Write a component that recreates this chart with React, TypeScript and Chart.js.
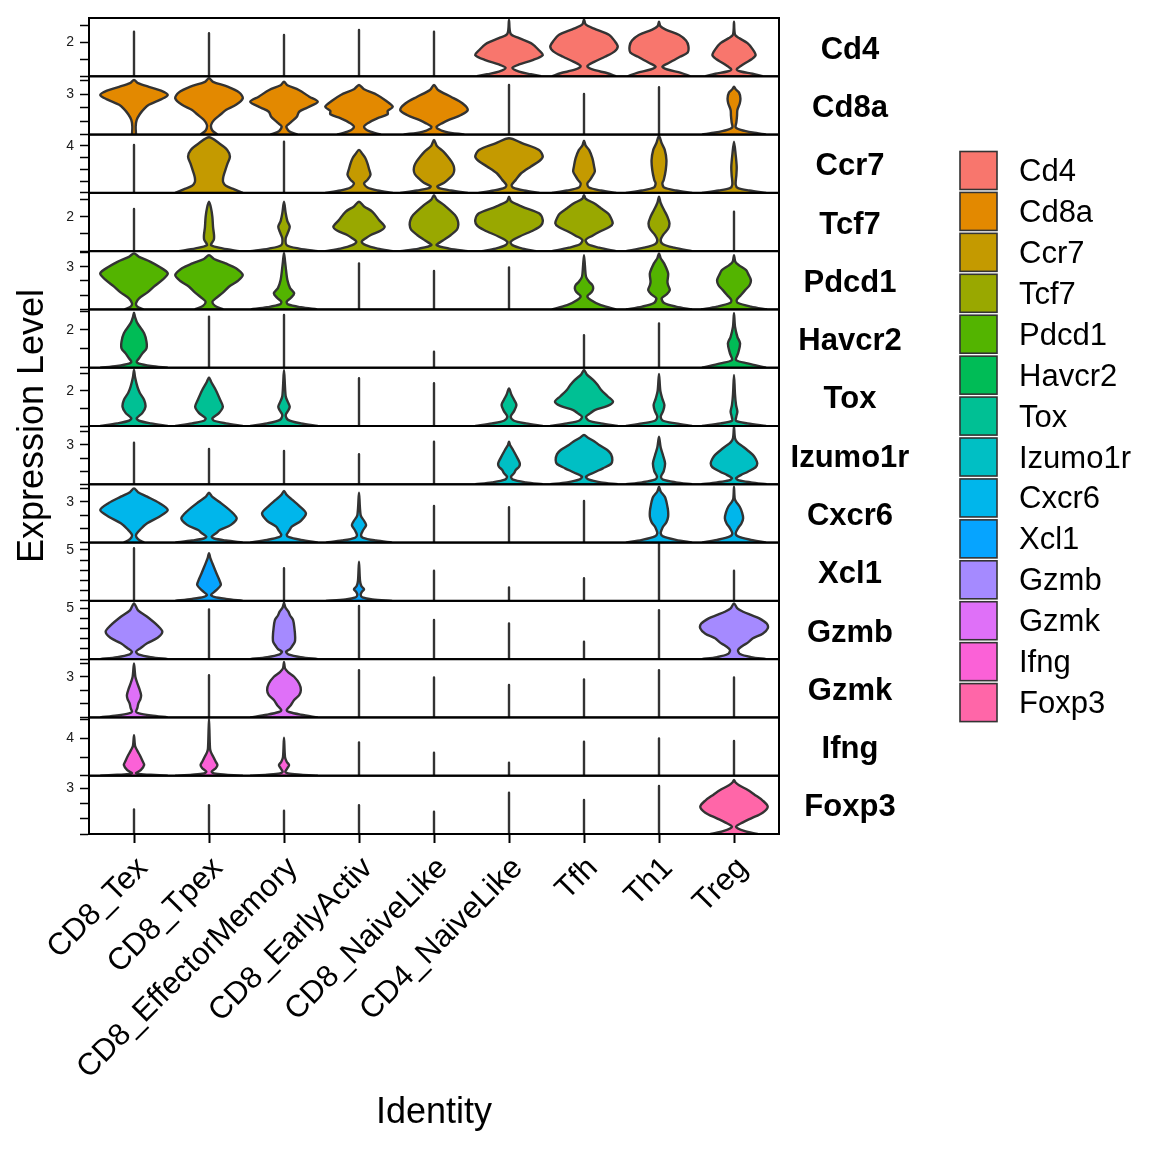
import React, { useEffect, useRef } from "react";
import { Chart, registerables } from "chart.js";

Chart.register(...registerables);

const FONT = '"Liberation Sans", Arial, Helvetica, sans-serif';

const categories = [
  "CD8_Tex", "CD8_Tpex", "CD8_EffectorMemory", "CD8_EarlyActiv", "CD8_NaiveLike",
  "CD4_NaiveLike", "Tfh", "Th1", "Treg",
];

const genes = [
  "Cd4", "Cd8a", "Ccr7", "Tcf7", "Pdcd1", "Havcr2", "Tox",
  "Izumo1r", "Cxcr6", "Xcl1", "Gzmb", "Gzmk", "Ifng", "Foxp3",
];

const geneColors = [
  "#F8766D", "#E38900", "#C49A00", "#99A800", "#53B400", "#00BC56", "#00C094",
  "#00BFC4", "#00B6EB", "#06A4FF", "#A58AFF", "#DF70F8", "#FB61D7", "#FF66A8",
];

// upper limit of each panel's expression axis
const panelMax = [3.43, 4.31, 4.94, 3.39, 4.1, 3.09, 3.33, 4.45, 4.28, 5.73, 5.74, 4.3, 6.24, 3.83];
// spacing of the y ticks in each panel
const tickStep = [1, 1, 1, 1, 1, 1, 1, 1, 1, 1, 1, 1, 2, 1];
// the single labelled tick of each panel
const labelledTick = [2, 3, 4, 2, 3, 2, 2, 3, 3, 5, 5, 3, 4, 3];

// Violin outlines: per category a list of [expression value, relative half-width]
const cd4Violins = [
  [[0, 0], [2.62, 0]],
  [[0, 0], [2.53, 0]],
  [[0, 0], [2.43, 0]],
  [[0, 0], [2.72, 0]],
  [[0, 0], [2.62, 0]],
  [[0, 0.95], [0.12, 0.65], [0.27, 0.3], [0.5, 0.1], [0.7, 0.3], [0.95, 0.7], [1.25, 1.0], [1.55, 0.88], [1.75, 0.78], [1.95, 0.65], [2.25, 0.3], [2.5, 0.05], [3.31, 0]],
  [[0, 0.95], [0.18, 0.7], [0.4, 0.25], [0.6, 0.1], [0.85, 0.3], [1.15, 0.62], [1.45, 0.9], [1.75, 1.0], [2.1, 0.9], [2.43, 0.75], [2.8, 0.3], [3.05, 0.05], [3.35, 0]],
  [[0, 0.93], [0.2, 0.65], [0.4, 0.25], [0.56, 0.1], [0.8, 0.3], [1.15, 0.62], [1.4, 0.85], [1.78, 0.87], [2.1, 0.8], [2.43, 0.6], [2.75, 0.2], [2.95, 0.04], [3.21, 0]],
  [[0, 0.85], [0.15, 0.55], [0.28, 0.2], [0.42, 0.08], [0.6, 0.2], [0.8, 0.35], [1.0, 0.52], [1.25, 0.64], [1.6, 0.55], [1.95, 0.4], [2.25, 0.15], [2.45, 0.03], [3.21, 0]],
];

const cd8aViolins = [
  [[0, 0.06], [0.6, 0.05], [1.08, 0.08], [1.5, 0.17], [1.9, 0.3], [2.2, 0.44], [2.6, 0.8], [2.93, 1.0], [3.25, 0.8], [3.53, 0.44], [3.8, 0.12], [4.03, 0]],
  [[0, 0.25], [0.3, 0.1], [0.7, 0.06], [1.08, 0.15], [1.5, 0.35], [1.82, 0.5], [2.2, 0.8], [2.68, 1.0], [3.1, 0.9], [3.54, 0.55], [3.9, 0.12], [4.16, 0]],
  [[0, 0.4], [0.25, 0.15], [0.6, 0.07], [0.9, 0.2], [1.32, 0.38], [1.69, 0.45], [2.0, 0.7], [2.43, 1.0], [2.8, 0.75], [3.3, 0.44], [3.65, 0.1], [3.91, 0]],
  [[0, 0.65], [0.25, 0.3], [0.58, 0.15], [0.9, 0.3], [1.2, 0.54], [1.5, 0.85], [1.75, 0.85], [2.06, 1.0], [2.5, 0.8], [2.93, 0.54], [3.35, 0.15], [3.67, 0]],
  [[0, 0.9], [0.2, 0.35], [0.45, 0.1], [0.6, 0.08], [0.85, 0.25], [1.08, 0.44], [1.45, 0.8], [1.82, 1.0], [2.3, 0.85], [2.8, 0.5], [3.3, 0.12], [3.67, 0]],
  [[0, 0], [3.67, 0]],
  [[0, 0], [3.0, 0]],
  [[0, 0], [3.5, 0]],
  [[0, 0.95], [0.15, 0.55], [0.35, 0.2], [0.54, 0.05], [0.9, 0.07], [1.4, 0.09], [1.82, 0.1], [2.3, 0.17], [2.68, 0.19], [3.1, 0.15], [3.35, 0.05], [3.54, 0]],
];

const ccr7Violins = [
  [[0, 0], [4.06, 0]],
  [[0, 1.0], [0.3, 0.75], [0.6, 0.5], [0.9, 0.42], [1.3, 0.42], [1.8, 0.47], [2.5, 0.55], [3.07, 0.62], [3.64, 0.54], [4.2, 0.3], [4.71, 0]],
  [[0, 0], [4.34, 0]],
  [[0, 1.0], [0.2, 0.55], [0.45, 0.25], [0.81, 0.15], [1.1, 0.25], [1.52, 0.34], [2.0, 0.3], [2.5, 0.25], [2.93, 0.19], [3.3, 0.1], [3.64, 0]],
  [[0, 1.0], [0.2, 0.5], [0.4, 0.15], [0.55, 0.1], [0.85, 0.3], [1.24, 0.46], [1.6, 0.57], [1.94, 0.6], [2.3, 0.58], [2.64, 0.52], [3.1, 0.4], [3.49, 0.28], [4.0, 0.08], [4.48, 0]],
  [[0, 0.9], [0.2, 0.45], [0.45, 0.12], [0.67, 0.08], [1.1, 0.2], [1.66, 0.36], [2.22, 0.64], [2.7, 0.9], [3.07, 1.0], [3.64, 0.89], [4.2, 0.4], [4.63, 0]],
  [[0, 0.95], [0.2, 0.5], [0.45, 0.15], [0.8, 0.1], [1.1, 0.18], [1.37, 0.24], [1.8, 0.32], [2.22, 0.3], [2.93, 0.25], [3.64, 0.15], [4.0, 0.05], [4.42, 0]],
  [[0, 0.98], [0.2, 0.5], [0.45, 0.15], [0.81, 0.1], [1.09, 0.14], [1.94, 0.2], [2.79, 0.22], [3.64, 0.17], [4.2, 0.08], [4.82, 0]],
  [[0, 0.95], [0.2, 0.45], [0.4, 0.12], [0.7, 0.05], [1.5, 0.07], [2.2, 0.08], [3.2, 0.05], [4.34, 0]],
];

const tcf7Violins = [
  [[0, 0], [2.45, 0]],
  [[0, 0.9], [0.16, 0.4], [0.35, 0.06], [0.65, 0.14], [0.9, 0.15], [1.4, 0.12], [2.0, 0.1], [2.5, 0.06], [2.87, 0]],
  [[0, 1.0], [0.15, 0.45], [0.35, 0.08], [0.74, 0.05], [1.1, 0.12], [1.42, 0.17], [1.75, 0.1], [2.2, 0.05], [2.87, 0]],
  [[0, 1.0], [0.15, 0.55], [0.35, 0.2], [0.55, 0.08], [0.75, 0.2], [0.94, 0.35], [1.2, 0.65], [1.42, 0.76], [1.8, 0.6], [2.29, 0.4], [2.6, 0.15], [2.87, 0]],
  [[0, 1.0], [0.15, 0.45], [0.35, 0.08], [0.6, 0.25], [0.94, 0.5], [1.25, 0.68], [1.52, 0.72], [1.8, 0.7], [2.1, 0.62], [2.68, 0.3], [3.0, 0.08], [3.26, 0]],
  [[0, 0.8], [0.15, 0.4], [0.35, 0.1], [0.55, 0.05], [0.84, 0.3], [1.23, 0.74], [1.5, 0.95], [1.81, 1.0], [2.2, 0.89], [2.58, 0.4], [2.9, 0.06], [3.16, 0]],
  [[0, 0.95], [0.2, 0.45], [0.4, 0.12], [0.65, 0.05], [0.9, 0.25], [1.13, 0.46], [1.4, 0.75], [1.62, 0.85], [2.0, 0.78], [2.2, 0.71], [2.5, 0.5], [2.78, 0.3], [3.05, 0.05], [3.26, 0]],
  [[0, 0.98], [0.2, 0.45], [0.4, 0.12], [0.65, 0.05], [0.94, 0.12], [1.3, 0.27], [1.62, 0.31], [2.0, 0.25], [2.39, 0.15], [2.8, 0.05], [3.16, 0]],
  [[0, 0], [2.29, 0]],
];

const pdcd1Violins = [
  [[0, 0.28], [0.2, 0.1], [0.43, 0.06], [0.78, 0.15], [1.2, 0.4], [1.6, 0.59], [2.1, 0.85], [2.54, 1.0], [3.0, 0.75], [3.35, 0.49], [3.7, 0.15], [3.94, 0]],
  [[0, 0.42], [0.25, 0.18], [0.54, 0.1], [0.78, 0.2], [1.2, 0.42], [1.6, 0.59], [2.0, 0.85], [2.42, 1.0], [2.9, 0.8], [3.24, 0.49], [3.55, 0.15], [3.82, 0]],
  [[0, 0.98], [0.15, 0.5], [0.35, 0.12], [0.54, 0.08], [0.8, 0.2], [1.13, 0.3], [1.5, 0.18], [2.07, 0.1], [2.77, 0.06], [3.4, 0.03], [3.98, 0]],
  [[0, 0], [3.24, 0]],
  [[0, 0], [2.7, 0]],
  [[0, 0], [2.96, 0]],
  [[0, 0.95], [0.3, 0.5], [0.66, 0.2], [0.94, 0.1], [1.2, 0.22], [1.45, 0.27], [1.7, 0.25], [1.95, 0.15], [2.3, 0.06], [3.0, 0.03], [3.82, 0]],
  [[0, 0.98], [0.2, 0.5], [0.45, 0.15], [0.78, 0.08], [1.05, 0.22], [1.36, 0.32], [1.7, 0.27], [1.95, 0.25], [2.54, 0.27], [3.24, 0.15], [3.6, 0.05], [3.94, 0]],
  [[0, 0.98], [0.2, 0.5], [0.45, 0.12], [0.66, 0.08], [1.0, 0.2], [1.36, 0.33], [1.7, 0.46], [2.07, 0.5], [2.5, 0.42], [2.77, 0.36], [3.1, 0.15], [3.35, 0.04], [3.82, 0]],
];

const havcr2Violins = [
  [[0, 1.0], [0.1, 0.5], [0.22, 0.15], [0.32, 0.08], [0.5, 0.15], [0.76, 0.25], [1.03, 0.37], [1.38, 0.37], [1.83, 0.3], [2.36, 0.1], [2.7, 0.03], [2.92, 0]],
  [[0, 0], [2.71, 0]],
  [[0, 0], [2.8, 0]],
  [],
  [[0, 0], [0.85, 0]],
  [],
  [[0, 0], [1.73, 0]],
  [[0, 0], [2.35, 0]],
  [[0, 0.95], [0.23, 0.4], [0.41, 0.06], [0.76, 0.12], [1.29, 0.18], [1.64, 0.1], [2.18, 0.03], [2.89, 0]],
];

const toxViolins = [
  [[0, 1.0], [0.15, 0.5], [0.3, 0.15], [0.44, 0.08], [0.75, 0.25], [1.1, 0.34], [1.49, 0.3], [1.9, 0.17], [2.25, 0.1], [2.8, 0.03], [3.2, 0]],
  [[0, 1.0], [0.15, 0.5], [0.3, 0.15], [0.44, 0.1], [0.75, 0.3], [1.1, 0.41], [1.5, 0.33], [2.06, 0.2], [2.5, 0.07], [2.78, 0]],
  [[0, 1.0], [0.15, 0.5], [0.35, 0.12], [0.63, 0.05], [0.9, 0.13], [1.1, 0.17], [1.35, 0.12], [1.7, 0.05], [3.2, 0]],
  [[0, 0], [2.73, 0]],
  [[0, 0], [2.44, 0]],
  [[0, 1.0], [0.15, 0.5], [0.3, 0.15], [0.53, 0.05], [0.85, 0.15], [1.2, 0.22], [1.5, 0.15], [1.8, 0.07], [2.15, 0]],
  [[0, 1.0], [0.15, 0.5], [0.3, 0.15], [0.53, 0.06], [0.75, 0.2], [0.91, 0.32], [1.15, 0.7], [1.39, 0.86], [1.7, 0.7], [2.06, 0.51], [2.35, 0.4], [2.63, 0.27], [2.95, 0.08], [3.2, 0]],
  [[0, 0.98], [0.15, 0.5], [0.3, 0.12], [0.53, 0.05], [0.85, 0.12], [1.2, 0.16], [1.55, 0.1], [2.0, 0.04], [2.97, 0]],
  [[0, 0.95], [0.15, 0.4], [0.3, 0.06], [0.55, 0.07], [0.82, 0.1], [1.2, 0.06], [1.8, 0.03], [2.91, 0]],
];

const izumo1rViolins = [
  [[0, 0], [3.18, 0]],
  [[0, 0], [2.69, 0]],
  [[0, 0], [2.54, 0]],
  [[0, 0], [2.29, 0]],
  [[0, 0], [3.25, 0]],
  [[0, 1.0], [0.15, 0.5], [0.35, 0.12], [0.58, 0.06], [0.85, 0.15], [1.09, 0.2], [1.35, 0.3], [1.6, 0.32], [2.0, 0.25], [2.62, 0.12], [3.0, 0.03], [3.25, 0]],
  [[0, 1.0], [0.15, 0.5], [0.35, 0.15], [0.58, 0.06], [0.9, 0.3], [1.22, 0.56], [1.55, 0.8], [1.85, 0.84], [2.3, 0.8], [2.62, 0.69], [3.0, 0.45], [3.25, 0.32], [3.55, 0.12], [3.76, 0]],
  [[0, 0.98], [0.15, 0.5], [0.35, 0.12], [0.58, 0.06], [1.0, 0.14], [1.6, 0.18], [2.2, 0.12], [2.8, 0.05], [3.63, 0]],
  [[0, 0.97], [0.15, 0.5], [0.3, 0.15], [0.46, 0.06], [0.7, 0.2], [0.96, 0.41], [1.3, 0.64], [1.6, 0.69], [1.95, 0.64], [2.24, 0.56], [2.6, 0.4], [2.87, 0.27], [3.2, 0.1], [3.51, 0.03], [4.4, 0]],
];

const cxcr6Violins = [
  [[0, 0.3], [0.25, 0.12], [0.56, 0.06], [1.0, 0.2], [1.42, 0.39], [1.9, 0.75], [2.39, 1.0], [2.9, 0.75], [3.37, 0.39], [3.7, 0.12], [3.98, 0]],
  [[0, 1.0], [0.15, 0.5], [0.3, 0.15], [0.43, 0.08], [0.7, 0.22], [0.92, 0.32], [1.3, 0.65], [1.78, 0.82], [2.3, 0.65], [3.0, 0.3], [3.35, 0.1], [3.66, 0]],
  [[0, 1.0], [0.2, 0.5], [0.4, 0.15], [0.56, 0.08], [0.85, 0.15], [1.17, 0.23], [1.6, 0.5], [2.15, 0.65], [2.7, 0.45], [3.13, 0.25], [3.5, 0.08], [3.79, 0]],
  [[0, 0.98], [0.15, 0.5], [0.35, 0.12], [0.56, 0.06], [0.9, 0.12], [1.29, 0.21], [1.6, 0.15], [2.0, 0.05], [3.66, 0]],
  [[0, 0], [2.69, 0]],
  [[0, 0], [2.59, 0]],
  [[0, 0], [3.05, 0]],
  [[0, 0.98], [0.2, 0.5], [0.45, 0.12], [0.68, 0.05], [0.95, 0.08], [1.17, 0.12], [1.5, 0.22], [1.9, 0.27], [2.3, 0.27], [2.63, 0.25], [3.0, 0.22], [3.37, 0.17], [3.75, 0.05], [4.1, 0]],
  [[0, 0.95], [0.2, 0.5], [0.45, 0.12], [0.68, 0.05], [1.05, 0.12], [1.4, 0.22], [1.78, 0.27], [2.2, 0.24], [2.63, 0.17], [3.0, 0.06], [3.25, 0.02], [4.1, 0]],
];

const xcl1Violins = [
  [[0, 0], [5.17, 0]],
  [[0, 1.0], [0.2, 0.5], [0.4, 0.15], [0.58, 0.06], [1.0, 0.2], [1.56, 0.35], [2.1, 0.3], [2.71, 0.22], [3.69, 0.1], [4.2, 0.04], [4.68, 0]],
  [[0, 0], [3.2, 0]],
  [[0, 0.98], [0.15, 0.4], [0.35, 0.1], [0.58, 0.05], [0.85, 0.08], [1.14, 0.15], [1.45, 0.07], [2.0, 0.03], [3.85, 0]],
  [[0, 0], [2.97, 0]],
  [[0, 0], [1.33, 0]],
  [[0, 0], [2.22, 0]],
  [[0, 0], [5.59, 0]],
  [[0, 0], [2.97, 0]],
];

const gzmbViolins = [
  [[0, 1.0], [0.2, 0.5], [0.45, 0.15], [0.73, 0.06], [1.1, 0.2], [1.56, 0.39], [2.1, 0.7], [2.7, 0.84], [3.3, 0.7], [4.17, 0.39], [4.8, 0.12], [5.49, 0]],
  [[0, 0], [4.9, 0]],
  [[0, 1.0], [0.2, 0.5], [0.45, 0.15], [0.73, 0.06], [1.0, 0.18], [1.22, 0.23], [1.7, 0.32], [2.2, 0.33], [3.0, 0.31], [3.85, 0.27], [4.3, 0.18], [4.67, 0.13], [5.1, 0.04], [5.55, 0]],
  [[0, 0], [5.23, 0]],
  [[0, 0], [3.85, 0]],
  [[0, 0], [3.52, 0]],
  [[0, 0], [1.71, 0]],
  [[0, 0], [4.83, 0]],
  [[0, 0.95], [0.2, 0.5], [0.5, 0.18], [0.9, 0.12], [1.3, 0.25], [1.6, 0.4], [2.05, 0.56], [2.5, 0.85], [3.03, 1.0], [3.5, 0.97], [4.02, 0.75], [4.35, 0.5], [4.67, 0.27], [5.0, 0.1], [5.49, 0]],
];

const gzmkViolins = [
  [[0, 1.0], [0.15, 0.5], [0.3, 0.15], [0.42, 0.06], [0.7, 0.1], [1.04, 0.13], [1.35, 0.19], [1.65, 0.21], [2.1, 0.16], [2.51, 0.1], [3.0, 0.04], [3.99, 0]],
  [[0, 0], [3.12, 0]],
  [[0, 1.0], [0.2, 0.5], [0.4, 0.15], [0.55, 0.08], [0.9, 0.2], [1.28, 0.3], [1.65, 0.45], [2.02, 0.5], [2.5, 0.45], [3.0, 0.3], [3.35, 0.12], [3.62, 0.03], [4.1, 0]],
  [[0, 0], [3.49, 0]],
  [[0, 0], [2.95, 0]],
  [[0, 0], [2.39, 0]],
  [[0, 0], [2.81, 0]],
  [[0, 0], [3.49, 0]],
  [[0, 0], [2.95, 0]],
];

const ifngViolins = [
  [[0, 1.0], [0.1, 0.5], [0.2, 0.15], [0.28, 0.06], [0.6, 0.2], [1.14, 0.3], [1.6, 0.25], [2.21, 0.17], [2.8, 0.08], [3.2, 0.03], [4.35, 0]],
  [[0, 1.0], [0.12, 0.5], [0.25, 0.15], [0.43, 0.08], [0.8, 0.2], [1.14, 0.25], [1.5, 0.2], [1.86, 0.15], [2.5, 0.06], [2.93, 0.03], [6.1, 0]],
  [[0, 1.0], [0.12, 0.5], [0.25, 0.12], [0.43, 0.04], [0.8, 0.1], [1.14, 0.15], [1.5, 0.08], [2.0, 0.03], [4.06, 0]],
  [[0, 0], [3.57, 0]],
  [[0, 0], [2.46, 0]],
  [[0, 0], [1.39, 0]],
  [[0, 0], [3.64, 0]],
  [[0, 0], [4.0, 0]],
  [[0, 0], [3.71, 0]],
];

const foxp3Violins = [
  [[0, 0], [1.62, 0]],
  [[0, 0], [1.9, 0]],
  [[0, 0], [1.53, 0]],
  [[0, 0], [1.9, 0]],
  [[0, 0], [1.46, 0]],
  [[0, 0], [2.71, 0]],
  [[0, 0], [2.23, 0]],
  [[0, 0], [3.15, 0]],
  [[0, 0.7], [0.2, 0.3], [0.48, 0.06], [0.75, 0.25], [1.03, 0.51], [1.4, 0.85], [1.79, 1.0], [2.2, 0.85], [2.6, 0.6], [2.89, 0.41], [3.2, 0.15], [3.4, 0.04], [3.55, 0]],
];

const allViolins = [
  cd4Violins, cd8aViolins, ccr7Violins, tcf7Violins, pdcd1Violins, havcr2Violins, toxViolins,
  izumo1rViolins, cxcr6Violins, xcl1Violins, gzmbViolins, gzmkViolins, ifngViolins, foxp3Violins,
];

const VIOLIN_HALF = 0.45;

const decorPlugin = {
  id: "decor",
  afterDatasetsDraw(chart: any) {
    const ctx = chart.ctx;
    const a = chart.chartArea;
    ctx.save();
    ctx.strokeStyle = "#000000";
    ctx.lineWidth = 2;
    genes.forEach((_, i) => {
      const s = chart.scales["y" + i];
      ctx.strokeRect(a.left, s.top, a.right - a.left, s.bottom - s.top);
    });
    ctx.restore();
  },
  afterDraw(chart: any) {
    const ctx = chart.ctx;
    const a = chart.chartArea;
    ctx.save();
    ctx.fillStyle = "#000000";
    // gene labels on the right of each panel
    ctx.font = `bold 31px ${FONT}`;
    ctx.textAlign = "center";
    ctx.textBaseline = "middle";
    genes.forEach((g, i) => {
      const s = chart.scales["y" + i];
      ctx.fillText(g, 850, (s.top + s.bottom) / 2 + 3);
    });
    // axis titles
    ctx.font = `36px ${FONT}`;
    ctx.fillText("Identity", (a.left + a.right) / 2, 1113);
    ctx.save();
    ctx.translate(33, (a.top + a.bottom) / 2);
    ctx.rotate(-Math.PI / 2);
    ctx.fillText("Expression Level", 0, 0);
    ctx.restore();
    // legend
    ctx.textAlign = "left";
    ctx.font = `31px ${FONT}`;
    genes.forEach((g, i) => {
      const cy = 170.5 + i * 40.93;
      ctx.fillStyle = geneColors[i];
      ctx.fillRect(960, cy - 19, 37, 38);
      ctx.strokeStyle = "#333333";
      ctx.lineWidth = 1.6;
      ctx.strokeRect(960, cy - 19, 37, 38);
      ctx.fillStyle = "#000000";
      ctx.fillText(g, 1019, cy + 2);
    });
    ctx.restore();
  },
};

export default function App() {
  const ref = useRef<HTMLCanvasElement>(null);

  useEffect(() => {
    const canvas = ref.current;
    if (!canvas) return;
    Chart.defaults.font.family = FONT;

    const datasets: any[] = [];
    allViolins.forEach((geneViolins, g) => {
      geneViolins.forEach((knots: number[][], c: number) => {
        if (!knots.length) return;
        const cx = c + 1;
        const right = knots.map(([v, w]) => ({ x: cx + w * VIOLIN_HALF, y: v }));
        const left = knots
          .slice(0, -1)
          .reverse()
          .map(([v, w]) => ({ x: cx - w * VIOLIN_HALF, y: v }));
        datasets.push({
          type: "line",
          label: genes[g] + " " + categories[c],
          data: [...right, ...left],
          xAxisID: "x",
          yAxisID: "y" + g,
          borderColor: "#333333",
          borderWidth: 2.4,
          borderJoinStyle: "round",
          backgroundColor: geneColors[g],
          fill: "shape",
          pointRadius: 0,
          pointHoverRadius: 0,
          tension: 0.3,
        });
      });
    });

    const scales: any = {
      x: {
        type: "linear",
        position: "bottom",
        min: 0.4,
        max: 9.6,
        afterBuildTicks: (s: any) => {
          s.ticks = categories.map((_, i) => ({ value: i + 1 }));
        },
        afterFit: (s: any) => {
          s.height = 318;
        },
        ticks: {
          autoSkip: false,
          minRotation: 45,
          maxRotation: 45,
          padding: 7,
          labelOffset: 9,
          color: "#000000",
          font: { size: 31, family: FONT },
          callback: (v: any) => categories[Math.round(v) - 1] ?? "",
        },
        grid: {
          drawOnChartArea: false,
          drawTicks: true,
          tickLength: 9,
          tickWidth: 2,
          tickColor: "#000000",
        },
        border: { display: true, color: "#000000", width: 2 },
      },
    };

    genes.forEach((_, i) => {
      scales["y" + i] = {
        type: "linear",
        position: "left",
        stack: "genes",
        stackWeight: 1,
        weight: genes.length - i,
        min: 0,
        max: panelMax[i],
        afterFit: (s: any) => {
          s.width = 89;
        },
        ticks: {
          stepSize: tickStep[i],
          includeBounds: false,
          autoSkip: false,
          padding: 6,
          color: "#1a1a1a",
          font: { size: 14, family: FONT },
          callback: (v: any) => (v === labelledTick[i] ? String(v) : ""),
        },
        grid: {
          drawOnChartArea: false,
          drawTicks: true,
          tickLength: 9,
          tickWidth: 1.5,
          tickColor: "#000000",
        },
        border: { display: true, color: "#000000", width: 2 },
      };
    });

    const chart = new Chart(canvas, {
      type: "line",
      data: { datasets },
      options: {
        responsive: false,
        maintainAspectRatio: false,
        animation: false,
        devicePixelRatio: 1,
        events: [],
        layout: { padding: { left: 0, right: 373, top: 18, bottom: 0 } },
        plugins: {
          legend: { display: false },
          tooltip: { enabled: false },
        },
        scales,
      } as any,
      plugins: [decorPlugin],
    });

    return () => chart.destroy();
  }, []);

  return (
    <div style={{ position: "absolute", left: 0, top: 0, width: 1152, height: 1152, background: "#ffffff" }}>
      <canvas ref={ref} width={1152} height={1152} style={{ width: 1152, height: 1152, display: "block" }} />
    </div>
  );
}
